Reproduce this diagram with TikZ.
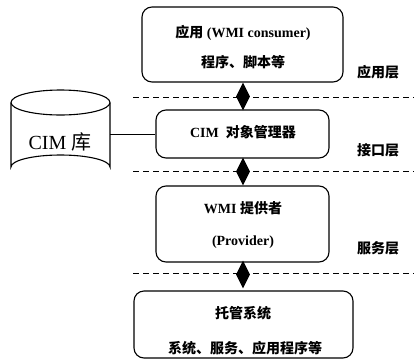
\documentclass[tikz,border=0pt]{standalone}
\usepackage{fontspec}
\setmainfont{Liberation Serif}
\newfontfamily\cjk{Noto Sans CJK SC}
\usetikzlibrary{shapes.geometric}
\tikzset{
  layerbox/.style={draw, line width=1.1pt, rounded corners=10pt},
  txt/.style={font=\fontsize{14pt}{16pt}\selectfont\bfseries, inner sep=0pt},
  lbl/.style={font=\fontsize{14pt}{16pt}\selectfont\cjk\bfseries, inner sep=0pt},
  sep/.style={line width=1pt, dash pattern=on 6pt off 4pt},
  link/.style={shape=diamond, fill=black, minimum width=14pt, minimum height=28pt, inner sep=0pt},
}
\begin{document}
\begin{tikzpicture}[x=1pt,y=-1pt]
\useasboundingbox (0,0) rectangle (414,359);
% boxes
\node[layerbox, minimum width=201pt, minimum height=75pt] (app) at (242.5,44.5) {};
\node[layerbox, minimum width=173pt, minimum height=48pt] (cimom) at (242.5,134) {};
\node[layerbox, minimum width=173pt, minimum height=76pt] (prov) at (242.5,224) {};
\node[layerbox, minimum width=219pt, minimum height=67pt] (host) at (243.5,324.5) {};
% texts
\node[txt] (t1) at (243,33) {{\cjk 应用} (WMI consumer)};
\node[txt] (t2) at (243,62) {\cjk 程序、脚本等};
\node[txt] (t3) at (243,132) {CIM\ \ {\cjk 对象管理器}};
\node[txt] (t4) at (243,208) {WMI {\cjk 提供者}};
\node[txt] (t5) at (243,242) {(Provider)};
\node[txt] (t6) at (243,313) {\cjk 托管系统};
\node[txt] (t7) at (245,348) {\cjk 系统、服务、应用程序等};
% layer labels
\node[lbl] (l1) at (378,72) {应用层};
\node[lbl] (l2) at (378,150) {接口层};
\node[lbl] (l3) at (378,248) {服务层};
% dashed separators
\coordinate (d1a) at (133,97); \coordinate (d1b) at (414,97);
\coordinate (d2a) at (133,171); \coordinate (d2b) at (414,171);
\coordinate (d3a) at (133,273); \coordinate (d3b) at (414,273);
\draw[sep] (d1a) -- (d1b);
\draw[sep] (d2a) -- (d2b);
\draw[sep] (d3a) -- (d3b);
% diamonds linking layers
\node[link] (k1) at (243,96.5) {};
\node[link] (k2) at (243,171.5) {};
\node[link] (k3) at (243,274.5) {};
% cylinder
\draw[line width=1.1pt] (11,102.5) -- (11,167) arc[start angle=180, end angle=360, x radius=49.5, y radius=12] -- (110,102.5);
\draw[line width=1.1pt] (60.5,102.5) ellipse[x radius=49.5, y radius=12.5];
\node[inner sep=0pt, font=\fontsize{20pt}{22pt}\selectfont] (db) at (60,142) {CIM {\cjk 库}};
\coordinate (dbR) at (110,134);
\draw[line width=1pt] (dbR) -- (cimom.west);
\end{tikzpicture}
\end{document}
